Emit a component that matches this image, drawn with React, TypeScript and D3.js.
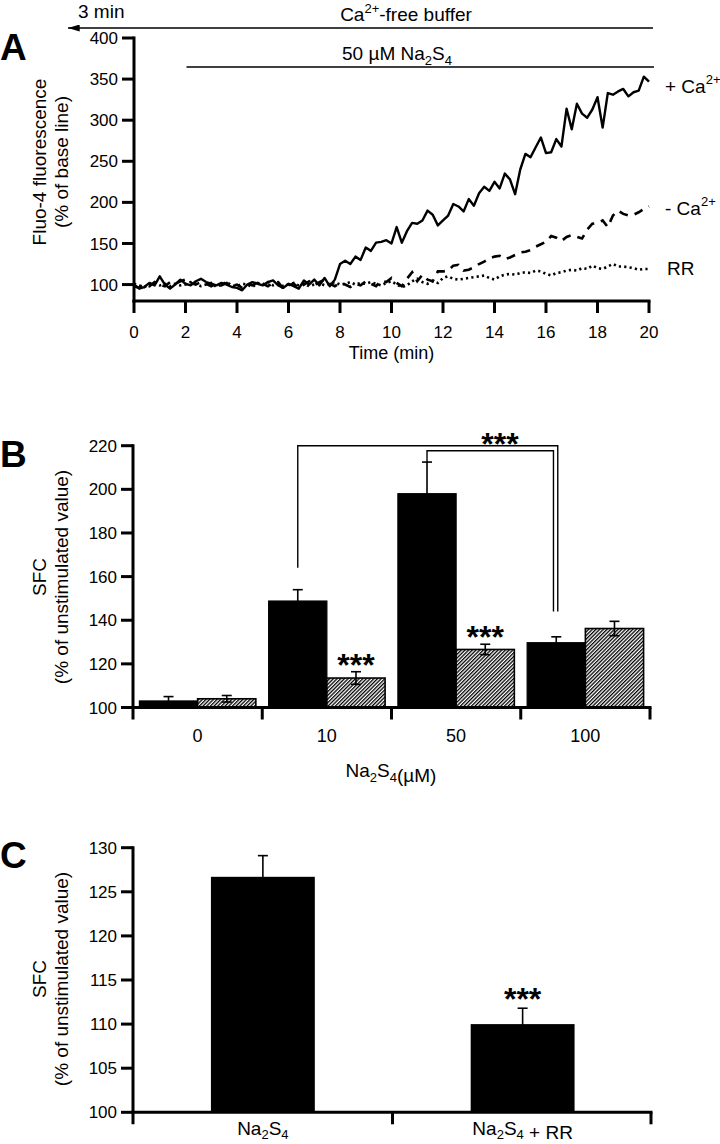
import React from 'react';
import * as d3 from 'd3';

const FONT = '"Liberation Sans", Arial, Helvetica, sans-serif';

// ---------- Panel A data (time step 0.2 min, 0..20 min) ----------
const timeStep = 0.2;
const plusCa = [
  100, 95, 97, 102, 99, 110, 100, 95, 100, 106,
  101, 99, 104, 107, 103, 101, 99, 102, 100, 97,
  96, 93, 100, 103, 101, 99, 103, 105, 99, 96,
  101, 98, 95, 105, 100, 106, 99, 108, 98, 106,
  125, 129, 125, 134, 130, 145, 141, 151, 152, 154,
  150, 170, 151, 165, 175, 174, 178, 190, 185, 172,
  178, 184, 198, 195, 189, 204, 196, 211, 219, 214,
  225, 217, 235, 228, 210, 240, 259, 255, 267, 279,
  260, 261, 277, 268, 314, 289, 320, 308, 303, 313,
  328, 291, 333, 331, 335, 338, 329, 334, 336, 353,
  347,
];
const minusCa = [
  98, 96, 100, 98, 103, 100, 98, 103, 101, 104,
  106, 102, 100, 103, 101, 98, 101, 99, 102, 98,
  100, 96, 101, 99, 103, 101, 98, 102, 103, 95,
  99, 101, 96, 100, 104, 99, 103, 106, 101, 98,
  102, 100, 97, 101, 99, 104, 101, 98, 105, 103,
  108, 102, 98, 107, 115, 104, 112, 106, 104, 116,
  116, 117, 123, 124, 117, 118, 121, 125, 128, 132,
  134, 135, 131, 133, 136, 139, 140, 142, 146, 149,
  152, 159, 157, 153, 158, 160, 158, 156, 167, 174,
  175, 178, 170, 184, 190, 186, 184, 185, 188, 192,
  195,
];
const rr = [
  101, 99, 97, 100, 102, 99, 101, 98, 101, 99,
  100, 103, 101, 98, 100, 102, 97, 100, 103, 99,
  98, 101, 100, 97, 102, 100, 103, 99, 101, 98,
  100, 102, 99, 101, 98, 100, 102, 99, 101, 103,
  100, 101, 103, 100, 102, 101, 103, 101, 99, 102,
  104, 100, 97, 99, 104, 107, 103, 101, 104, 102,
  108, 110, 107, 106, 107, 108, 109, 110, 111, 108,
  106, 110, 112, 113, 112, 114, 115, 114, 117, 116,
  113, 111, 114, 115, 117, 118, 117, 120, 119, 123,
  120, 119, 122, 125, 122, 122, 121, 120, 118, 119,
  119,
];
const timeTicks = [0, 2, 4, 6, 8, 10, 12, 14, 16, 18, 20];
const fluoTicks = [100, 150, 200, 250, 300, 350, 400];
const sulfideStart = 2; // 50 uM Na2S4 from 2 min

// ---------- Panel B data ----------
const concentrations = ['0', '10', '50', '100'];
const sfcControl = [103, 148.8, 198, 129.7];
const sfcControlErr = [2, 5.2, 14.5, 2.7];
const sfcTreated = [104, 113.5, 126.6, 136.2];
const sfcTreatedErr = [1.5, 2.9, 2.4, 3.3];
const sfcTicksB = [100, 120, 140, 160, 180, 200, 220];
const bracketOuter = { start: 164, top: 220, end: 144 };
const bracketInner = { start: 212.5, top: 217.7, end: 144 };

// ---------- Panel C data ----------
const conditions = ['Na2S4', 'Na2S4 + RR'];
const sfcC = [126.7, 110.0];
const sfcCErr = [2.4, 1.8];
const sfcTicksC = [100, 105, 110, 115, 120, 125, 130];

const Na2S4 = ({ sub = 13, d = 5 }: { sub?: number; d?: number }) => (
  <>
    Na<tspan fontSize={sub} dy={d}>2</tspan>
    <tspan dy={-d}>S</tspan>
    <tspan fontSize={sub} dy={d}>4</tspan>
    <tspan dy={-d}></tspan>
  </>
);

export default function App() {
  const W = 720;
  const H = 1144;
  const axisW = 3;
  const tickLen = 12;

  const xA = d3.scaleLinear().domain([0, 20]).range([134, 649]);
  const yA = d3.scaleLinear().domain([80, 400]).range([301, 38]);
  const lineA = d3
    .line<number>()
    .x((_, i) => xA(i * timeStep))
    .y((v) => yA(v));

  const yB = d3.scaleLinear().domain([100, 220]).range([707.5, 445.7]);
  const x0B = d3.scaleBand<string>().domain(concentrations).range([133, 650]).padding(0);
  const x1B = d3
    .scaleBand<string>()
    .domain(['ctrl', 'trt'])
    .range([0, x0B.bandwidth()])
    .paddingInner(0)
    .paddingOuter(0.11);

  const yC = d3.scaleLinear().domain([100, 130]).range([1112.3, 847.7]);
  const xC = d3
    .scaleBand<string>()
    .domain(conditions)
    .range([133, 652.5])
    .paddingInner(0.6)
    .paddingOuter(0.3);

  // error bar: stem from yTop to yBot; bottom cap only if lowCap
  const errBar = (cx: number, yTop: number, yBot: number, lowCap: boolean, key: string) => (
    <g key={key} stroke="#000" strokeWidth={1.6}>
      <line x1={cx} x2={cx} y1={yTop} y2={yBot} />
      <line x1={cx - 5} x2={cx + 5} y1={yTop} y2={yTop} />
      {lowCap && <line x1={cx - 5} x2={cx + 5} y1={yBot} y2={yBot} />}
    </g>
  );

  const yTitle = (x1: number, x2: number, cy: number, l1: string, l2: string) => (
    <g fontSize={19} fontFamily={FONT} textAnchor="middle">
      <text transform={`translate(${x1},${cy}) rotate(-90)`}>{l1}</text>
      <text transform={`translate(${x2},${cy}) rotate(-90)`}>{l2}</text>
    </g>
  );

  const bCenter = (i: number, k: 'ctrl' | 'trt') =>
    (x0B(concentrations[i]) as number) + (x1B(k) as number) + x1B.bandwidth() / 2;

  const bracketPath = (b: typeof bracketOuter, xs: number, xe: number) =>
    `M${xs},${yB(b.start)}V${yB(b.top)}H${xe}V${yB(b.end)}`;

  return (
    <svg
      width={W}
      height={H}
      style={{ position: 'absolute', left: 0, top: 0, background: '#fff' }}
      fontFamily={FONT}
    >
      <defs>
        <pattern
          id="hatch"
          width={2.6}
          height={2.6}
          patternUnits="userSpaceOnUse"
          patternTransform="rotate(45)"
        >
          <rect width={2.6} height={2.6} fill="#fff" />
          <line x1={0.65} x2={0.65} y1={0} y2={2.6} stroke="#000" strokeWidth={1.3} />
        </pattern>
        <marker id="arrowL" viewBox="0 0 10 6" refX={0} refY={3} markerWidth={14} markerHeight={7} markerUnits="userSpaceOnUse" orient="auto">
          <path d="M10,0 L0,3 L10,6 Z" fill="#000" />
        </marker>
      </defs>

      {/* ================= Panel A ================= */}
      <text x={0} y={60} fontSize={37} fontWeight="bold">A</text>

      <text x={78} y={18} fontSize={19}>3 min</text>
      <line x1={68} x2={xA(20) + 4} y1={28} y2={28} stroke="#000" strokeWidth={1.4} markerStart="url(#arrowL)" />
      <text x={406} y={21} fontSize={19} textAnchor="middle">
        Ca<tspan fontSize={13} dy={-8}>2+</tspan>
        <tspan dy={8}>-free buffer</tspan>
      </text>
      <line x1={xA(sulfideStart) + 1} x2={xA(20) + 5} y1={67} y2={67} stroke="#000" strokeWidth={1.4} />
      <text x={397} y={60} fontSize={19} textAnchor="middle">
        50 µM <Na2S4 />
      </text>

      <g stroke="#000" strokeWidth={axisW} fill="none">
        <line x1={xA(0)} x2={xA(0)} y1={yA(400) - 1.5} y2={yA(80) + 1.5} />
        <line x1={xA(0) - 1.5} x2={xA(20) + 1.5} y1={yA(80)} y2={yA(80)} />
        {fluoTicks.map((t) => (
          <line key={'fy' + t} x1={xA(0) - tickLen} x2={xA(0)} y1={yA(t)} y2={yA(t)} />
        ))}
        {timeTicks.map((t) => (
          <line key={'fx' + t} x1={xA(t)} x2={xA(t)} y1={yA(80)} y2={yA(80) + tickLen} />
        ))}
      </g>
      <g fontSize={17} textAnchor="end">
        {fluoTicks.map((t) => (
          <text key={'fyl' + t} x={xA(0) - 16} y={yA(t)} dy="0.36em">{t}</text>
        ))}
      </g>
      <g fontSize={17} textAnchor="middle">
        {timeTicks.map((t) => (
          <text key={'fxl' + t} x={xA(t)} y={338}>{t}</text>
        ))}
      </g>
      <text x={xA(10)} y={359} fontSize={18} textAnchor="middle">Time (min)</text>
      {yTitle(46, 68, 162, 'Fluo-4 fluorescence', '(% of base line)')}

      <path d={lineA(rr) as string} fill="none" stroke="#000" strokeWidth={2.6} strokeDasharray="2.2,3.2" />
      <path d={lineA(minusCa) as string} fill="none" stroke="#000" strokeWidth={2.6} strokeDasharray="9,7" />
      <path d={lineA(plusCa) as string} fill="none" stroke="#000" strokeWidth={2.4} strokeLinejoin="round" />

      <text x={665} y={93} fontSize={19}>
        + Ca<tspan fontSize={13} dy={-9}>2+</tspan>
      </text>
      <text x={665} y={215} fontSize={19}>
        - Ca<tspan fontSize={13} dy={-9}>2+</tspan>
      </text>
      <text x={667} y={275} fontSize={19}>RR</text>

      {/* ================= Panel B ================= */}
      <text x={0} y={467} fontSize={37} fontWeight="bold">B</text>

      {concentrations.map((c, i) => {
        const gx = x0B(c) as number;
        return (
          <g key={'b' + c}>
            <rect
              x={gx + (x1B('ctrl') as number)}
              y={yB(sfcControl[i])}
              width={x1B.bandwidth()}
              height={yB(100) - yB(sfcControl[i])}
              fill="#000"
              stroke="#000"
              strokeWidth={1.2}
            />
            <rect
              x={gx + (x1B('trt') as number)}
              y={yB(sfcTreated[i])}
              width={x1B.bandwidth()}
              height={yB(100) - yB(sfcTreated[i])}
              fill="url(#hatch)"
              stroke="#000"
              strokeWidth={1.6}
            />
          </g>
        );
      })}
      {concentrations.map((c, i) =>
        errBar(bCenter(i, 'ctrl'), yB(sfcControl[i] + sfcControlErr[i]), yB(sfcControl[i]) + 1, false, 'ec' + c)
      )}
      {concentrations.map((c, i) =>
        errBar(
          bCenter(i, 'trt'),
          yB(sfcTreated[i] + sfcTreatedErr[i]),
          yB(Math.max(100.5, sfcTreated[i] - sfcTreatedErr[i])),
          sfcTreated[i] - sfcTreatedErr[i] > 101,
          'et' + c
        )
      )}

      <g stroke="#000" strokeWidth={axisW} fill="none">
        <line x1={133} x2={133} y1={yB(220) - 1.5} y2={yB(100) + tickLen} />
        <line x1={131.5} x2={651.5} y1={yB(100)} y2={yB(100)} />
        {sfcTicksB.map((t) => (
          <line key={'by' + t} x1={133 - tickLen} x2={133} y1={yB(t)} y2={yB(t)} />
        ))}
        {concentrations.slice(1).map((c) => (
          <line key={'bx' + c} x1={x0B(c) as number} x2={x0B(c) as number} y1={yB(100)} y2={yB(100) + tickLen} />
        ))}
        <line x1={650} x2={650} y1={yB(100)} y2={yB(100) + tickLen} />
      </g>
      <g fontSize={17} textAnchor="end">
        {sfcTicksB.map((t) => (
          <text key={'byl' + t} x={117} y={yB(t)} dy="0.36em">{t}</text>
        ))}
      </g>
      <g fontSize={18} textAnchor="middle">
        {concentrations.map((c) => (
          <text key={'bxl' + c} x={(x0B(c) as number) + x0B.bandwidth() / 2} y={742}>{c}</text>
        ))}
      </g>
      <text x={391} y={777} fontSize={19} textAnchor="middle">
        <Na2S4 />(µM)
      </text>
      {yTitle(46, 68, 577, 'SFC', '(% of unstimulated value)')}

      <g fill="none" stroke="#000" strokeWidth={1.4}>
        <path d={bracketPath(bracketOuter, bCenter(1, 'ctrl'), bCenter(3, 'ctrl') + 1.5)} />
        <path d={bracketPath(bracketInner, bCenter(2, 'ctrl'), bCenter(3, 'ctrl') - 2.8)} />
      </g>
      <g fontSize={32} fontWeight="bold" textAnchor="middle">
        <text x={500} y={455}>***</text>
        <text x={bCenter(1, 'trt')} y={yB(sfcTreated[1] + sfcTreatedErr[1]) + 4}>***</text>
        <text x={bCenter(2, 'trt')} y={yB(sfcTreated[2] + sfcTreatedErr[2]) + 4}>***</text>
      </g>

      {/* ================= Panel C ================= */}
      <text x={0} y={868} fontSize={37} fontWeight="bold">C</text>
      {conditions.map((c, i) => (
        <rect
          key={'c' + i}
          x={xC(c) as number}
          y={yC(sfcC[i])}
          width={xC.bandwidth()}
          height={yC(100) - yC(sfcC[i])}
          fill="#000"
        />
      ))}
      {conditions.map((c, i) =>
        errBar((xC(c) as number) + xC.bandwidth() / 2, yC(sfcC[i] + sfcCErr[i]), yC(sfcC[i]) + 1, false, 'ecc' + i)
      )}
      <g stroke="#000" strokeWidth={axisW} fill="none">
        <line x1={133} x2={133} y1={yC(130) - 1.5} y2={yC(100) + tickLen} />
        <line x1={131.5} x2={652.5} y1={yC(100)} y2={yC(100)} />
        {sfcTicksC.map((t) => (
          <line key={'cy' + t} x1={133 - tickLen} x2={133} y1={yC(t)} y2={yC(t)} />
        ))}
        <line x1={392.5} x2={392.5} y1={yC(100)} y2={yC(100) + tickLen} />
        <line x1={651} x2={651} y1={yC(100)} y2={yC(100) + tickLen} />
      </g>
      <g fontSize={17} textAnchor="end">
        {sfcTicksC.map((t) => (
          <text key={'cyl' + t} x={117} y={yC(t)} dy="0.36em">{t}</text>
        ))}
      </g>
      <g fontSize={19} textAnchor="middle">
        <text x={(xC(conditions[0]) as number) + xC.bandwidth() / 2} y={1135}>
          <Na2S4 sub={13} d={4} />
        </text>
        <text x={(xC(conditions[1]) as number) + xC.bandwidth() / 2} y={1135}>
          <Na2S4 sub={13} d={4} /> + RR
        </text>
      </g>
      {yTitle(46, 68, 979, 'SFC', '(% of unstimulated value)')}
      <text
        x={(xC(conditions[1]) as number) + xC.bandwidth() / 2}
        y={yC(sfcC[1] + sfcCErr[1]) + 2}
        fontSize={32}
        fontWeight="bold"
        textAnchor="middle"
      >
        ***
      </text>
    </svg>
  );
}
